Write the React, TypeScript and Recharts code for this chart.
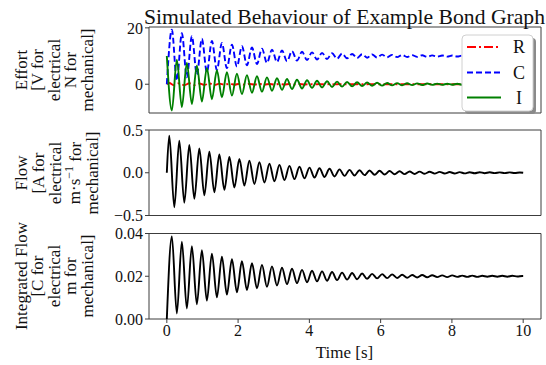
import React from 'react';
import { LineChart, Line, XAxis, YAxis, ReferenceArea } from 'recharts';

// Times of the extrema of the capacitor / inductor / integrated-flow traces (s)
const effortTimes = [
  0, 0.141, 0.281, 0.422, 0.562, 0.703, 0.843, 0.984, 1.124, 1.265,
  1.405, 1.546, 1.686, 1.827, 1.967, 2.108, 2.248, 2.389, 2.529, 2.670,
  2.810, 2.951, 3.091, 3.232, 3.372, 3.513, 3.653, 3.794, 3.934, 4.075,
  4.215, 4.356, 4.496, 4.637, 4.777, 4.918, 5.058, 5.199, 5.339, 5.480,
  5.620, 5.761, 5.901, 6.042, 6.182, 6.323, 6.463, 6.604, 6.744, 6.885,
  7.025, 7.166, 7.306, 7.447, 7.587, 7.728, 7.868, 8.009, 8.149, 8.290,
  8.430, 8.571, 8.711, 8.852, 8.992, 9.133, 9.273, 9.414, 9.554, 9.695,
  9.835, 9.976, 10,
];

const effortC = [
  0, 19.32, 1.31, 18.10, 2.45, 17.04, 3.44, 16.12, 4.30, 15.31,
  5.05, 14.62, 5.70, 14.01, 6.26, 13.49, 6.75, 13.03, 7.18, 12.63,
  7.55, 12.29, 7.87, 11.99, 8.15, 11.73, 8.39, 11.50, 8.60, 11.30,
  8.78, 11.13, 8.94, 10.99, 9.08, 10.86, 9.20, 10.74, 9.31, 10.65,
  9.40, 10.56, 9.48, 10.49, 9.55, 10.42, 9.61, 10.37, 9.66, 10.32,
  9.70, 10.28, 9.74, 10.24, 9.78, 10.21, 9.80, 10.18, 9.83, 10.16,
  9.85, 10.14, 9.87, 10.12, 9.89, 10.10, 9.90, 10.09, 9.92, 10.08,
  9.93, 10.07, 10.06,
];

const effortI = [
  10, -9.32, 8.69, -8.10, 7.55, -7.04, 6.56, -6.12, 5.70, -5.31,
  4.95, -4.62, 4.30, -4.01, 3.74, -3.49, 3.25, -3.03, 2.82, -2.63,
  2.45, -2.29, 2.13, -1.99, 1.85, -1.73, 1.61, -1.50, 1.40, -1.30,
  1.22, -1.13, 1.06, -0.99, 0.92, -0.86, 0.80, -0.74, 0.69, -0.65,
  0.60, -0.56, 0.52, -0.49, 0.46, -0.42, 0.40, -0.37, 0.34, -0.32,
  0.30, -0.28, 0.26, -0.24, 0.23, -0.21, 0.20, -0.18, 0.17, -0.16,
  0.15, -0.14, 0.13, -0.12, 0.11, -0.10, 0.10, -0.09, 0.08, -0.08,
  0.07, -0.07, -0.06,
];

const integratedFlow = [
  0, 0.0386, 0.0026, 0.0362, 0.0049, 0.0341, 0.0069, 0.0322, 0.0086, 0.0306,
  0.0101, 0.0292, 0.0114, 0.0280, 0.0125, 0.0270, 0.0135, 0.0261, 0.0144, 0.0253,
  0.0151, 0.0246, 0.0157, 0.0240, 0.0163, 0.0235, 0.0168, 0.0230, 0.0172, 0.0226,
  0.0176, 0.0223, 0.0179, 0.0220, 0.0182, 0.0217, 0.0184, 0.0215, 0.0186, 0.0213,
  0.0188, 0.0211, 0.0190, 0.0210, 0.0191, 0.0209, 0.0192, 0.0207, 0.0193, 0.0206,
  0.0194, 0.0206, 0.0195, 0.0205, 0.0196, 0.0204, 0.0196, 0.0204, 0.0197, 0.0203,
  0.0197, 0.0203, 0.0197, 0.0202, 0.0198, 0.0202, 0.0198, 0.0202, 0.0198, 0.0202,
  0.0199, 0.0201, 0.0201,
];

// Times of the extrema of the flow / resistor traces (s)
const flowTimes = [
  0, 0.069, 0.210, 0.350, 0.491, 0.631, 0.772, 0.912, 1.053, 1.193,
  1.334, 1.474, 1.615, 1.755, 1.896, 2.036, 2.177, 2.317, 2.458, 2.598,
  2.739, 2.879, 3.020, 3.160, 3.301, 3.441, 3.582, 3.722, 3.863, 4.003,
  4.144, 4.284, 4.425, 4.565, 4.706, 4.846, 4.987, 5.127, 5.268, 5.408,
  5.549, 5.689, 5.830, 5.970, 6.111, 6.251, 6.392, 6.532, 6.673, 6.813,
  6.954, 7.094, 7.235, 7.375, 7.516, 7.656, 7.797, 7.937, 8.078, 8.218,
  8.359, 8.499, 8.640, 8.780, 8.921, 9.061, 9.202, 9.342, 9.483, 9.623,
  9.764, 9.904, 10,
];

const flow = [
  0, 0.432, -0.403, 0.375, -0.350, 0.326, -0.304, 0.283, -0.264, 0.246,
  -0.229, 0.214, -0.199, 0.186, -0.173, 0.161, -0.151, 0.140, -0.131, 0.122,
  -0.114, 0.106, -0.099, 0.092, -0.086, 0.080, -0.075, 0.070, -0.065, 0.060,
  -0.056, 0.053, -0.049, 0.046, -0.043, 0.040, -0.037, 0.034, -0.032, 0.030,
  -0.028, 0.026, -0.024, 0.023, -0.021, 0.020, -0.018, 0.017, -0.016, 0.015,
  -0.014, 0.013, -0.012, 0.011, -0.010, 0.010, -0.009, 0.008, -0.008, 0.007,
  -0.007, 0.006, -0.006, 0.006, -0.005, 0.005, -0.004, 0.004, -0.004, 0.004,
  -0.003, 0.003, 0,
];

const effortR = [
  0, 0.43, -0.40, 0.38, -0.35, 0.33, -0.30, 0.28, -0.26, 0.25,
  -0.23, 0.21, -0.20, 0.19, -0.17, 0.16, -0.15, 0.14, -0.13, 0.12,
  -0.11, 0.11, -0.10, 0.09, -0.09, 0.08, -0.08, 0.07, -0.07, 0.06,
  -0.06, 0.05, -0.05, 0.05, -0.04, 0.04, -0.04, 0.03, -0.03, 0.03,
  -0.03, 0.03, -0.02, 0.02, -0.02, 0.02, -0.02, 0.02, -0.02, 0.02,
  -0.01, 0.01, -0.01, 0.01, -0.01, 0.01, -0.01, 0.01, -0.01, 0.01,
  -0.01, 0.01, -0.01, 0.01, -0.01, 0.01, 0, 0, 0, 0,
  0, 0, 0,
];

const xTicks = [0, 2, 4, 6, 8, 10];
const effortTicks = [0, 20];
const flowTicks = [-0.5, 0, 0.5];
const intFlowTicks = [0, 0.02, 0.04];

const titleText = 'Simulated Behaviour of Example Bond Graph';
const xLabel = 'Time [s]';
const legendNames = ['R', 'C', 'I'];

const FONT = '"Liberation Serif", "DejaVu Serif", serif';
const FRAME = '#3c3c3c';
const X_DOMAIN: [number, number] = [-0.5, 10.5];

const pairs = (ts: number[], ys: number[]) => ts.map((t, i) => ({ t, y: ys[i] }));

const dataR = pairs(flowTimes, effortR);
const dataC = pairs(effortTimes, effortC);
const dataI = pairs(effortTimes, effortI);
const dataFlow = pairs(flowTimes, flow);
const dataInt = pairs(effortTimes, integratedFlow);

const tickStyle = { fill: '#111', fontSize: 16, fontFamily: FONT };
const minus = (s: string) => s.replace('-', '\u2212');

const COLORS = { R: '#ff0000', C: '#0000ff', I: '#008000' };
const DASH = { R: '9 3 2 3', C: '6 3', I: undefined as string | undefined };

function YLabel({ x0, yc, lines }: { x0: number[]; yc: number; lines: React.ReactNode[] }) {
  return (
    <g>
      {lines.map((ln, i) => (
        <text
          key={i}
          x={x0[i]}
          y={yc}
          transform={`rotate(-90, ${x0[i]}, ${yc})`}
          textAnchor="middle"
          dominantBaseline="central"
          fontFamily={FONT}
          fontSize={17}
          fill="#111"
        >
          {ln}
        </text>
      ))}
    </g>
  );
}

export default function App() {
  return (
    <div style={{ position: 'absolute', left: 0, top: 0, width: 546, height: 365, background: '#fff', overflow: 'hidden' }}>
      {/* Effort panel */}
      <div style={{ position: 'absolute', left: 0, top: 0 }}>
        <LineChart width={546} height={120} margin={{ top: 27, right: 5, bottom: 7, left: 0 }}>
          <XAxis type="number" dataKey="t" domain={X_DOMAIN} allowDataOverflow hide height={0} />
          <YAxis
            type="number"
            domain={[-10.2, 20.3]}
            ticks={effortTicks}
            interval={0}
            allowDataOverflow
            width={149}
            axisLine={false}
            tickSize={4}
            tickMargin={2}
            tickLine={{ stroke: FRAME }}
            tick={tickStyle}
          />
          <Line data={dataR} dataKey="y" type="monotone" stroke={COLORS.R} strokeWidth={1.9} strokeDasharray={DASH.R} dot={false} isAnimationActive={false} />
          <Line data={dataC} dataKey="y" type="monotone" stroke={COLORS.C} strokeWidth={1.9} strokeDasharray={DASH.C} dot={false} isAnimationActive={false} />
          <Line data={dataI} dataKey="y" type="monotone" stroke={COLORS.I} strokeWidth={1.9} dot={false} isAnimationActive={false} />
          <ReferenceArea x1={-0.5} x2={10.5} y1={-10.2} y2={20.3} fill="none" stroke={FRAME} strokeWidth={1} />
        </LineChart>
      </div>

      {/* Flow panel */}
      <div style={{ position: 'absolute', left: 0, top: 120 }}>
        <LineChart width={546} height={105} margin={{ top: 10, right: 5, bottom: 9.5, left: 0 }}>
          <XAxis type="number" dataKey="t" domain={X_DOMAIN} allowDataOverflow hide height={0} />
          <YAxis
            type="number"
            domain={[-0.5, 0.5]}
            ticks={flowTicks}
            interval={0}
            allowDataOverflow
            width={149}
            axisLine={false}
            tickSize={4}
            tickMargin={2}
            tickLine={{ stroke: FRAME }}
            tick={tickStyle}
            tickFormatter={(v: number) => minus(v.toFixed(1))}
          />
          <Line data={dataFlow} dataKey="y" type="monotone" stroke="#000" strokeWidth={1.9} dot={false} isAnimationActive={false} />
          <ReferenceArea x1={-0.5} x2={10.5} y1={-0.5} y2={0.5} fill="none" stroke={FRAME} strokeWidth={1} />
        </LineChart>
      </div>

      {/* Integrated flow panel */}
      <div style={{ position: 'absolute', left: 0, top: 225 }}>
        <LineChart width={546} height={140} margin={{ top: 8.5, right: 5, bottom: 0, left: 0 }}>
          <XAxis
            type="number"
            dataKey="t"
            domain={X_DOMAIN}
            ticks={xTicks}
            interval={0}
            allowDataOverflow
            height={46}
            axisLine={false}
            tickSize={4}
            tickMargin={2}
            tickLine={{ stroke: FRAME }}
            tick={tickStyle}
          />
          <YAxis
            type="number"
            domain={[0, 0.04]}
            ticks={intFlowTicks}
            interval={0}
            allowDataOverflow
            width={149}
            axisLine={false}
            tickSize={4}
            tickMargin={2}
            tickLine={{ stroke: FRAME }}
            tick={tickStyle}
            tickFormatter={(v: number) => v.toFixed(2)}
          />
          <Line data={dataInt} dataKey="y" type="monotone" stroke="#000" strokeWidth={1.9} dot={false} isAnimationActive={false} />
          <ReferenceArea x1={-0.5} x2={10.5} y1={0} y2={0.04} fill="none" stroke={FRAME} strokeWidth={1} />
        </LineChart>
      </div>

      {/* Text overlay: title, axis labels, legend */}
      <svg width={546} height={365} style={{ position: 'absolute', left: 0, top: 0, pointerEvents: 'none' }}>
        <text x={344.5} y={23.5} textAnchor="middle" fontFamily={FONT} fontSize={21} fill="#111" textLength={401} lengthAdjust="spacingAndGlyphs">
          {titleText}
        </text>

        <YLabel x0={[21, 37.5, 54, 70.5, 87]} yc={70} lines={['Effort', '[V for', 'electrical', 'N for', 'mechanical]']} />
        <YLabel
          x0={[21.5, 38, 55, 74.5, 92]}
          yc={173}
          lines={[
            'Flow',
            '[A for',
            'electrical',
            <>
              m·s<tspan dy={-6} fontSize={12}>−1</tspan>
              <tspan dy={6}> for</tspan>
            </>,
            'mechanical]',
          ]}
        />
        <YLabel x0={[21, 37.5, 54, 70.5, 87]} yc={276} lines={['Integrated Flow', '[C for', 'electrical', 'm for', 'mechanical]']} />

        <text x={344.5} y={357.5} textAnchor="middle" fontFamily={FONT} fontSize={17} fill="#111">
          {xLabel}
        </text>

        {/* legend */}
        <rect x={465} y={38} width={71} height={76} rx={4} fill="#8a8a8a" />
        <rect x={462} y={35} width={71} height={76} rx={4} fill="#fff" stroke="#d0d0d0" strokeWidth={1} />
        {legendNames.map((n, i) => {
          const y = [47, 72.5, 97.5][i];
          const key = n as 'R' | 'C' | 'I';
          return (
            <g key={n}>
              <line x1={467} x2={501} y1={y} y2={y} stroke={COLORS[key]} strokeWidth={1.9} strokeDasharray={DASH[key]} />
              <text x={519} y={y} textAnchor="middle" dominantBaseline="central" fontFamily={FONT} fontSize={18} fill="#111">
                {n}
              </text>
            </g>
          );
        })}
      </svg>
    </div>
  );
}
